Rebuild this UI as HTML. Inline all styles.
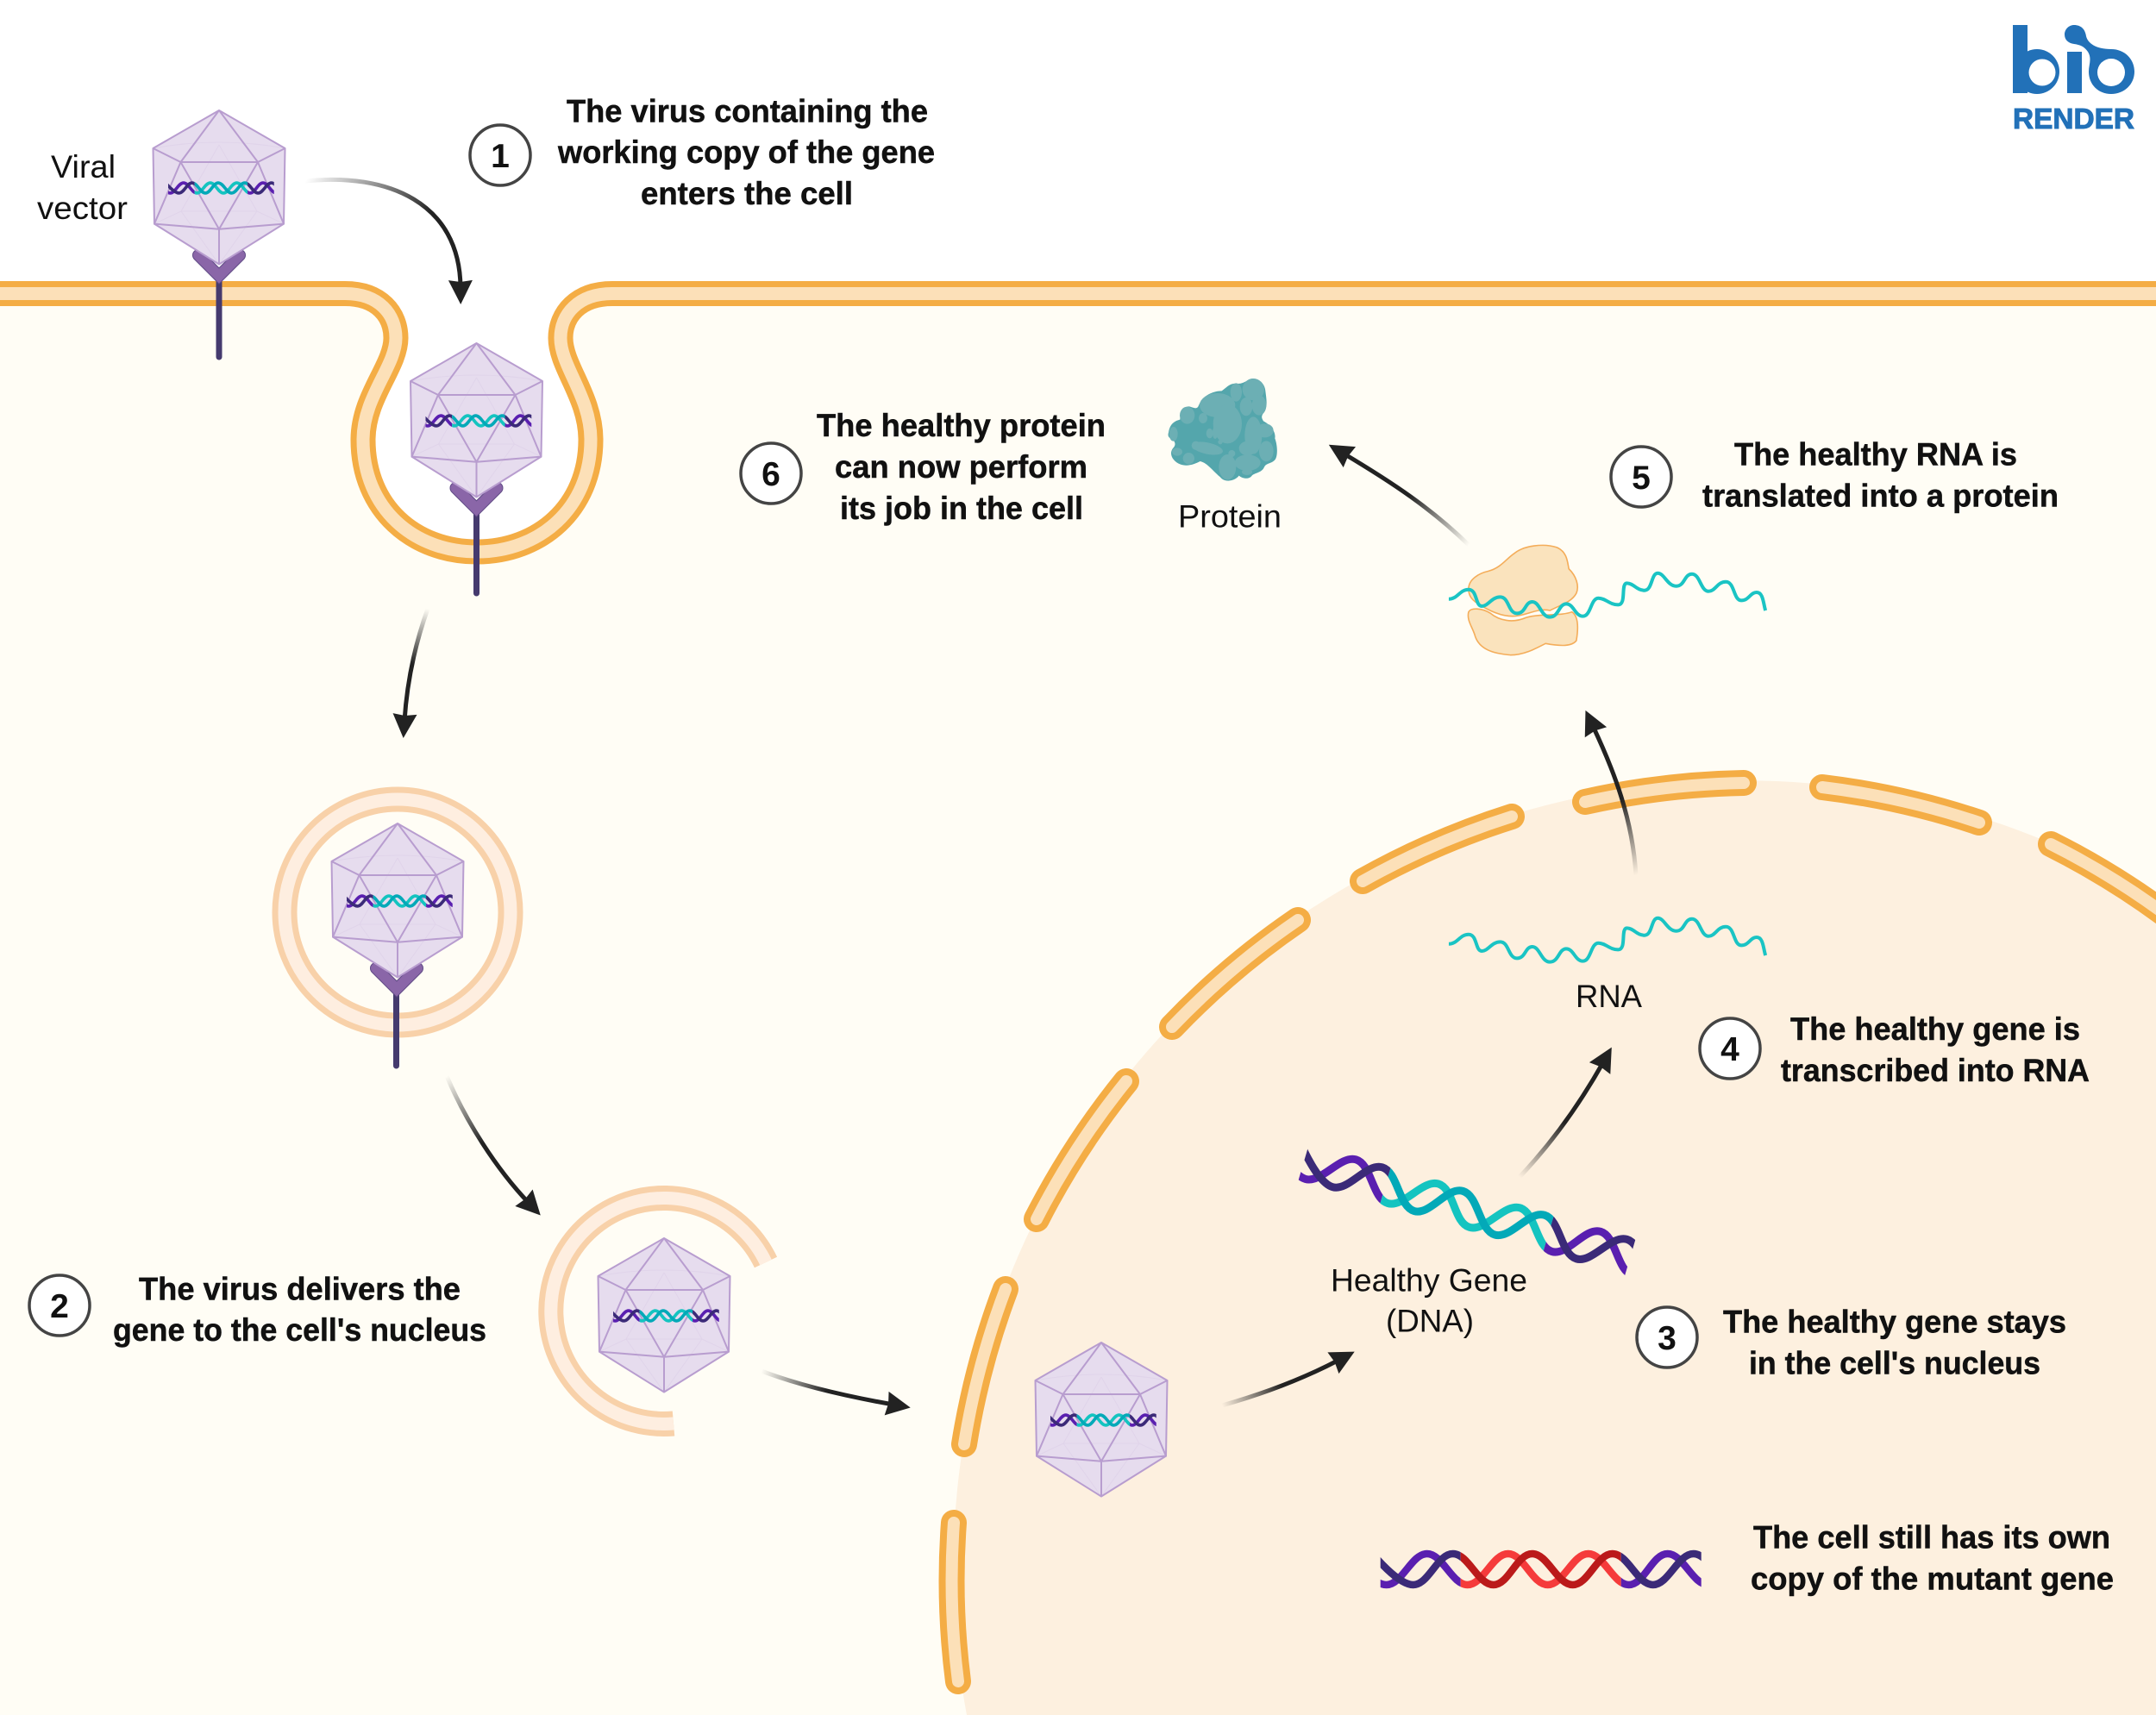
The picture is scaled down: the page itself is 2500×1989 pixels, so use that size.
<!DOCTYPE html>
<html><head><meta charset="utf-8"><style>
html,body{margin:0;padding:0;background:#fff;width:2500px;height:1989px;overflow:hidden}
svg{display:block;width:2500px;height:1989px;overflow:hidden}
text{font-family:"Liberation Sans",sans-serif;fill:#111}
.b{font-weight:bold;font-size:37px;stroke:#111;stroke-width:.5}
.r{font-size:37px}
.n{font-weight:bold;font-size:39px;text-anchor:middle}
.mo{fill:none;stroke:#f4ad45;stroke-width:30;stroke-linecap:round}
.mi{fill:none;stroke:#fce0b8;stroke-width:14;stroke-linecap:round}
.num{fill:#fff;stroke:#444;stroke-width:3.5}
.ar{fill:none;stroke-width:5;marker-end:url(#h)}
</style></head><body>
<svg width="2500" height="1989" viewBox="0 0 2500 1989" xmlns="http://www.w3.org/2000/svg">
<defs>
<clipPath id="page"><rect width="2500" height="1989"/></clipPath>
<marker id="h" markerUnits="userSpaceOnUse" markerWidth="32" markerHeight="32" viewBox="0 0 32 32" refX="10" refY="16" orient="auto"><path d="M2 2L30 16L2 30L4 16Z" fill="#222"/></marker>
<linearGradient id="g1" gradientUnits="userSpaceOnUse" x1="354" y1="210" x2="533" y2="333"><stop offset="0" stop-color="#222" stop-opacity="0"/><stop offset=".65" stop-color="#222"/></linearGradient>
<linearGradient id="g2" gradientUnits="userSpaceOnUse" x1="496" y1="706" x2="469" y2="836"><stop offset="0" stop-color="#222" stop-opacity="0"/><stop offset=".5" stop-color="#222"/></linearGradient>
<linearGradient id="g3" gradientUnits="userSpaceOnUse" x1="518" y1="1248" x2="613" y2="1395"><stop offset="0" stop-color="#222" stop-opacity="0"/><stop offset=".5" stop-color="#222"/></linearGradient>
<linearGradient id="g4" gradientUnits="userSpaceOnUse" x1="883" y1="1590" x2="1036" y2="1629"><stop offset="0" stop-color="#222" stop-opacity="0"/><stop offset=".5" stop-color="#222"/></linearGradient>
<linearGradient id="g5" gradientUnits="userSpaceOnUse" x1="1417" y1="1630" x2="1553" y2="1577"><stop offset="0" stop-color="#222" stop-opacity="0"/><stop offset=".5" stop-color="#222"/></linearGradient>
<linearGradient id="g6" gradientUnits="userSpaceOnUse" x1="1762" y1="1365" x2="1859" y2="1232"><stop offset="0" stop-color="#222" stop-opacity="0"/><stop offset=".5" stop-color="#222"/></linearGradient>
<linearGradient id="g7" gradientUnits="userSpaceOnUse" x1="1897" y1="1015" x2="1847" y2="842"><stop offset="0" stop-color="#222" stop-opacity="0"/><stop offset=".5" stop-color="#222"/></linearGradient>
<linearGradient id="g8" gradientUnits="userSpaceOnUse" x1="1703" y1="632" x2="1558" y2="526"><stop offset="0" stop-color="#222" stop-opacity="0"/><stop offset=".5" stop-color="#222"/></linearGradient>

<clipPath id="c1"><rect x="0" y="-40" width="93" height="80"/></clipPath>
<clipPath id="c2"><rect x="93" y="-40" width="186" height="80"/></clipPath>
<clipPath id="c3"><rect x="279" y="-40" width="93" height="80"/></clipPath>
<path id="sA" fill="none" d="M-40 -18S-11 18 7 18S36 -18 54 -18S83 18 101 18S130 -18 148 -18S176 18 194 18S223 -18 241 -18S270 18 288 18S315 -18 333 -18S362 18 380 18"/>
<path id="sB" fill="none" d="M-9 -18S20 18 38 18S66 -18 84 -18S113 18 131 18S158 -18 176 -18S205 18 223 18S251 -18 269 -18S298 18 316 18S345 -18 363 -18S392 18 410 18"/>
<g id="gene">
  <g clip-path="url(#c1)"><use href="#sA" stroke="#5a1fb0"/><use href="#sB" stroke="#3b2a78"/></g>
  <g clip-path="url(#c2)"><use href="#sA" stroke="#14c4c0"/><use href="#sB" stroke="#03a9b8"/></g>
  <g clip-path="url(#c3)"><use href="#sA" stroke="#5a1fb0"/><use href="#sB" stroke="#3b2a78"/></g>
</g>
<g id="mut" stroke-width="8.5">
  <g clip-path="url(#c1)"><use href="#sA" stroke="#5a1fb0"/><use href="#sB" stroke="#3b2a78"/></g>
  <g clip-path="url(#c2)"><use href="#sA" stroke="#f53b3b"/><use href="#sB" stroke="#bb1a1a"/></g>
  <g clip-path="url(#c3)"><use href="#sA" stroke="#5a1fb0"/><use href="#sB" stroke="#3b2a78"/></g>
</g>
<g id="virus">
  <path d="M0 0L76.5 44L75 131.6L0 178.5L-75 131.6L-76.5 44Z" fill="#e6dcee"/>
  <g fill="none" stroke="#e0d4ea" stroke-width="1">
    <path d="M-76.5 44Q0 30 76.5 44M-75 131.6L-44 117H44L75 131.6M0 40L-44 117M0 40L44 117M-44 117L0 178.5L44 117"/>
  </g>
  <g fill="none" stroke="#b89dcf" stroke-width="2" stroke-linejoin="round">
    <path d="M0 0L76.5 44L75 131.6L0 178.5L-75 131.6L-76.5 44Z"/>
    <path d="M-76.5 44L-44.5 60H45L76.5 44M0 0L-44.5 60L0 137.7L45 60L0 0M-44.5 60L-75 131.6L0 137.7L75 131.6L45 60M0 137.7V178.5"/>
  </g>
  <g transform="translate(-59 90) scale(.33)" stroke-width="11"><use href="#gene"/></g>
</g>
<g id="ab">
  <path d="M-24 168L0 192L24 168" stroke="#5f4a85" stroke-width="14" stroke-linecap="round" stroke-linejoin="miter" fill="none"/>
  <path d="M-24 168L0 192L24 168" stroke="#8a66a8" stroke-width="12" stroke-linecap="round" stroke-linejoin="miter" fill="none"/>
</g>
<path id="rna" fill="none" stroke="#1ac4c4" transform="translate(1300 400) scale(.51 .333)" vector-effect="non-scaling-stroke" style="stroke-width:4" d="M745 885C765 885 770 852 790 852S805 910 820 910S842 878 862 878S880 935 900 935S918 895 935 895S955 948 975 948S995 902 1012 902S1032 945 1050 945S1068 882 1085 882S1110 905 1130 905S1135 830 1150 830S1172 855 1190 855S1205 795 1220 795S1242 840 1262 840S1280 798 1298 798S1318 858 1335 858S1355 825 1375 825S1392 890 1410 890S1430 862 1445 862S1460 900 1465 925"/>
</defs>

<g clip-path="url(#page)">
<rect width="2500" height="1989" fill="#fff"/>
<rect y="340" width="2500" height="1649" fill="#fffdf5"/>
<path d="M400 340H710C670 340 650 365 650 392C650 425 685 460 685 510C685 590 625 640 553 640C480 640 421 590 421 510C421 460 459 425 459 392C459 365 440 340 400 340Z" fill="#fff"/>
<rect y="0" width="2500" height="340" fill="#fff"/>

<path d="M1121 1989A915 915 0 0 1 2500 1041V1989Z" fill="#fdf0df"/>

<!-- plasma membrane -->
<g fill="none">
<path d="M0 340.5H400C440 340.5 459 365 459 392C459 425 421 460 421 510C421 590 480 640 553 640C625 640 685 590 685 510C685 460 650 425 650 392C650 365 670 340.5 710 340.5H2500" stroke="#f4ad45" stroke-width="29"/>
<path d="M0 340.5H400C440 340.5 459 365 459 392C459 425 421 460 421 510C421 590 480 640 553 640C625 640 685 590 685 510C685 460 650 425 650 392C650 365 670 340.5 710 340.5H2500" stroke="#fce0b8" stroke-width="15"/>
</g>

<!-- nuclear envelope -->
<g>
<path class="mo" d="M1111 1950A915 915 0 0 1 1106 1766"/><path class="mi" d="M1111 1950A915 915 0 0 1 1106 1766"/>
<path class="mo" d="M1118 1675A915 915 0 0 1 1166 1495"/><path class="mi" d="M1118 1675A915 915 0 0 1 1166 1495"/>
<path class="mo" d="M1202 1414A915 915 0 0 1 1306 1254"/><path class="mi" d="M1202 1414A915 915 0 0 1 1306 1254"/>
<path class="mo" d="M1359 1191A915 915 0 0 1 1505 1067"/><path class="mi" d="M1359 1191A915 915 0 0 1 1505 1067"/>
<path class="mo" d="M1580 1022A915 915 0 0 1 1753 947"/><path class="mi" d="M1580 1022A915 915 0 0 1 1753 947"/>
<path class="mo" d="M1838 930A915 915 0 0 1 2022 908"/><path class="mi" d="M1838 930A915 915 0 0 1 2022 908"/>
<path class="mo" d="M2113 913A915 915 0 0 1 2295 954"/><path class="mi" d="M2113 913A915 915 0 0 1 2295 954"/>
<path class="mo" d="M2378 979A915 915 0 0 1 2530 1075"/><path class="mi" d="M2378 979A915 915 0 0 1 2530 1075"/>
</g>

<!-- endosomes -->
<circle cx="461" cy="1058" r="131" fill="none" stroke="#f8d1a9" stroke-width="29"/>
<circle cx="461" cy="1058" r="131" fill="none" stroke="#feeee0" stroke-width="15"/>
<path d="M888 1464A131 131 0 1 0 781 1651" fill="none" stroke="#f8d1a9" stroke-width="29"/>
<path d="M888 1464A131 131 0 1 0 781 1651" fill="none" stroke="#feeee0" stroke-width="15"/>

<!-- stalks -->
<g stroke="#453a6e" stroke-width="7" stroke-linecap="round" fill="none">
<path d="M254 318V414"/>
<path d="M552.5 588V688"/>
<path d="M459.5 1145V1236"/>
</g>

<!-- viruses -->
<g transform="translate(254 128)"><use href="#ab"/><use href="#virus"/></g>
<g transform="translate(552.5 398)"><use href="#ab"/><use href="#virus"/></g>
<g transform="translate(460 955)"><use href="#ab"/></g>
<g transform="translate(461 955)"><use href="#virus"/></g>
<g transform="translate(770 1436)"><use href="#virus"/></g>
<g transform="translate(1277 1557)"><use href="#virus"/></g>

<!-- arrows -->
<path class="ar" stroke="url(#g1)" d="M354 210C450 200 533 235 534 333"/>
<path class="ar" stroke="url(#g2)" d="M496 706C482 745 472 790 469 836"/>
<path class="ar" stroke="url(#g3)" d="M518 1248C540 1300 575 1355 613 1395"/>
<path class="ar" stroke="url(#g4)" d="M883 1590C930 1608 985 1620 1036 1629"/>
<path class="ar" stroke="url(#g5)" d="M1417 1630C1470 1615 1515 1597 1553 1577"/>
<path class="ar" stroke="url(#g6)" d="M1762 1365C1800 1325 1832 1280 1859 1232"/>
<path class="ar" stroke="url(#g7)" d="M1897 1015C1893 950 1872 895 1847 842"/>
<path class="ar" stroke="url(#g8)" d="M1703 632C1660 590 1615 560 1558 526"/>

<!-- genes -->
<g transform="translate(1512 1347) rotate(16.4) scale(1.06)" stroke-width="8.5"><use href="#gene"/></g>
<g transform="translate(1600.7 1820)"><use href="#mut"/></g>

<!-- protein -->
<g transform="translate(1340 420) scale(.3333)">
<path d="M45 245C50 215 65 205 85 200C85 170 105 150 120 155C135 160 145 165 150 150C165 115 200 100 230 100C245 90 260 70 285 75C300 75 310 70 325 60C350 50 380 70 382 100C385 125 390 150 380 170C370 185 365 190 375 205C395 215 420 240 415 265C425 290 425 330 415 340C400 355 385 350 378 365C370 385 345 385 335 395C325 410 300 405 290 395C275 415 240 420 225 400C200 380 180 350 155 345C135 355 110 365 85 355C60 345 45 320 60 300C70 290 70 280 60 270C50 265 40 260 45 245Z" fill="#54a6ac"/>
<g fill="#6cafb4">
<ellipse cx="340" cy="95" rx="38" ry="38"/><ellipse cx="280" cy="105" rx="20" ry="32"/><ellipse cx="315" cy="155" rx="22" ry="32"/><ellipse cx="360" cy="150" rx="25" ry="35"/><ellipse cx="215" cy="150" rx="62" ry="42"/><ellipse cx="250" cy="215" rx="50" ry="68"/><ellipse cx="110" cy="185" rx="26" ry="30"/><ellipse cx="165" cy="195" rx="15" ry="18"/><ellipse cx="188" cy="248" rx="12" ry="17"/><ellipse cx="207" cy="245" rx="9" ry="22"/><ellipse cx="62" cy="250" rx="15" ry="25"/><ellipse cx="75" cy="312" rx="18" ry="14"/><ellipse cx="115" cy="335" rx="20" ry="20"/><ellipse cx="180" cy="300" rx="55" ry="20" transform="rotate(12 180 300)"/><ellipse cx="140" cy="290" rx="15" ry="15"/><ellipse cx="250" cy="365" rx="30" ry="44"/><ellipse cx="225" cy="278" rx="8" ry="8"/><ellipse cx="265" cy="318" rx="12" ry="12"/><ellipse cx="320" cy="350" rx="45" ry="28"/><ellipse cx="318" cy="382" rx="18" ry="11"/><ellipse cx="340" cy="255" rx="30" ry="65"/><ellipse cx="380" cy="238" rx="30" ry="24"/><ellipse cx="385" cy="310" rx="25" ry="36"/><ellipse cx="320" cy="300" rx="30" ry="25"/>
</g>
</g>

<!-- ribosome -->
<g transform="translate(1300 400) scale(.51 .333)" fill="#fae3bd" stroke="#f4ad5a" stroke-width="1.6">
<path vector-effect="non-scaling-stroke" d="M790 850C790 815 815 795 835 788C865 775 875 745 895 725C915 700 960 690 990 705C1015 720 1015 760 1018 780C1035 805 1042 840 1035 865C1025 895 1000 905 975 925C945 915 920 945 890 945C860 945 830 920 810 900C795 885 790 870 790 850Z"/>
<path vector-effect="non-scaling-stroke" d="M790 930C795 915 820 915 840 935C860 960 890 970 920 950C950 935 1000 945 1025 930C1040 945 1040 985 1035 1030C1025 1050 1000 1050 965 1040C940 1060 915 1080 885 1080C845 1075 815 1060 805 1015C800 985 785 960 790 930Z"/>
</g>
<use href="#rna"/>
<use href="#rna" y="400"/>

<!-- number circles -->
<circle class="num" cx="580" cy="180" r="35"/><text class="n" x="580" y="194">1</text>
<circle class="num" cx="69" cy="1514" r="35"/><text class="n" x="69" y="1528">2</text>
<circle class="num" cx="1933" cy="1551" r="35"/><text class="n" x="1933" y="1565">3</text>
<circle class="num" cx="2006" cy="1216" r="35"/><text class="n" x="2006" y="1230">4</text>
<circle class="num" cx="1903" cy="553" r="35"/><text class="n" x="1903" y="567">5</text>
<circle class="num" cx="894" cy="549" r="35"/><text class="n" x="894" y="563">6</text>

<!-- bold text -->
<text class="b" x="657" y="141.5" textLength="419" lengthAdjust="spacingAndGlyphs">The virus containing the</text>
<text class="b" x="647" y="189" textLength="437" lengthAdjust="spacingAndGlyphs">working copy of the gene</text>
<text class="b" x="743" y="237" textLength="246" lengthAdjust="spacingAndGlyphs">enters the cell</text>
<text class="b" x="161" y="1507.5" textLength="373" lengthAdjust="spacingAndGlyphs">The virus delivers the</text>
<text class="b" x="131" y="1555" textLength="433" lengthAdjust="spacingAndGlyphs">gene to the cell's nucleus</text>
<text class="b" x="1998" y="1545.5" textLength="398" lengthAdjust="spacingAndGlyphs">The healthy gene stays</text>
<text class="b" x="2028" y="1593.5" textLength="338" lengthAdjust="spacingAndGlyphs">in the cell's nucleus</text>
<text class="b" x="2076" y="1206" textLength="336" lengthAdjust="spacingAndGlyphs">The healthy gene is</text>
<text class="b" x="2065" y="1254" textLength="358" lengthAdjust="spacingAndGlyphs">transcribed into RNA</text>
<text class="b" x="2011" y="539.5" textLength="328" lengthAdjust="spacingAndGlyphs">The healthy RNA is</text>
<text class="b" x="1974" y="587.5" textLength="413" lengthAdjust="spacingAndGlyphs">translated into a protein</text>
<text class="b" x="947" y="506" textLength="335" lengthAdjust="spacingAndGlyphs">The healthy protein</text>
<text class="b" x="968" y="554" textLength="293" lengthAdjust="spacingAndGlyphs">can now perform</text>
<text class="b" x="974" y="602" textLength="282" lengthAdjust="spacingAndGlyphs">its job in the cell</text>
<text class="b" x="2033" y="1795.5" textLength="414" lengthAdjust="spacingAndGlyphs">The cell still has its own</text>
<text class="b" x="2030" y="1843.5" textLength="421" lengthAdjust="spacingAndGlyphs">copy of the mutant gene</text>

<!-- regular labels -->
<text class="r" x="59" y="206" textLength="75" lengthAdjust="spacingAndGlyphs">Viral</text>
<text class="r" x="43" y="254" textLength="105" lengthAdjust="spacingAndGlyphs">vector</text>
<text class="r" x="1366" y="611.5" textLength="120" lengthAdjust="spacingAndGlyphs">Protein</text>
<text class="r" x="1827" y="1168" textLength="77" lengthAdjust="spacingAndGlyphs">RNA</text>
<text class="r" x="1543" y="1497.5" textLength="228" lengthAdjust="spacingAndGlyphs">Healthy Gene</text>
<text class="r" x="1607" y="1544.5" textLength="102" lengthAdjust="spacingAndGlyphs">(DNA)</text>

<!-- logo -->
<g fill="#2271b8">
<rect x="2334" y="29" width="17" height="79"/>
<circle cx="2362" cy="83" r="26"/>
<rect x="2397" y="60" width="17" height="48"/>
<path d="M2405 29C2414 29 2418 35 2419 42C2421 50 2430 57 2448 57C2464 57 2475 69 2475 83C2475 98 2463 109 2448 109C2433 109 2422 98 2422 83C2422 75 2426 68 2421 60C2417 54 2412 52 2405 51C2398 50 2394 46 2394 40C2394 34 2399 29 2405 29Z"/>
</g>
<circle cx="2368" cy="84" r="15.5" fill="#fff"/>
<circle cx="2448" cy="84" r="16" fill="#fff"/>
<text x="2334" y="149" textLength="141" lengthAdjust="spacingAndGlyphs" style="font-weight:bold;font-size:33px;fill:#2271b8;stroke:#2271b8;stroke-width:1">RENDER</text>
</g>
</svg>
</body></html>
